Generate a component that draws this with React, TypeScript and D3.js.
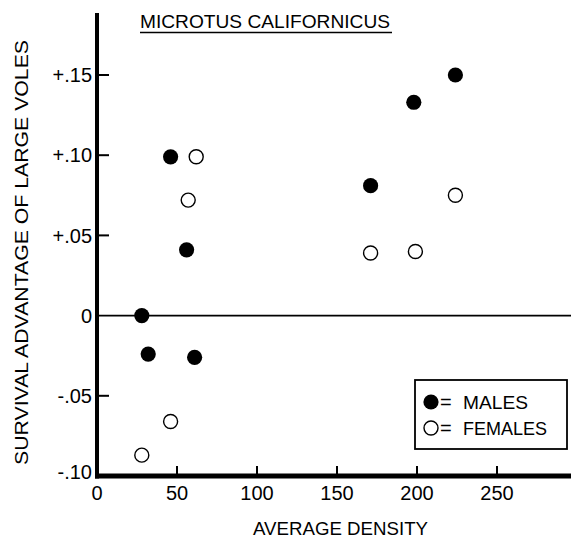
import React from "react";
import * as d3 from "d3";

const xTicks = [0, 50, 100, 150, 200, 250];
const yTicks = [0.15, 0.1, 0.05, 0, -0.05, -0.1];
const yTickLabels = ["+.15", "+.10", "+.05", "0", "-.05", "-.10"];

const malesX = [28, 32, 61, 46, 56, 171, 198, 224];
const malesY = [0, -0.024, -0.026, 0.099, 0.041, 0.081, 0.133, 0.15];
const femalesX = [28, 46, 57, 62, 171, 199, 224];
const femalesY = [-0.087, -0.066, 0.072, 0.099, 0.039, 0.04, 0.075];

const legendLabels = ["MALES", "FEMALES"];

const W = 571;
const H = 539;
const FONT = "'Liberation Sans', Arial, Helvetica, sans-serif";

export default function App() {
  const x = d3.scaleLinear().domain([0, 296.25]).range([97, 571]);
  const y = d3.scaleLinear().domain([-0.1, 0.15]).range([476, 75]);
  const males = malesX.map((v, i) => ({ x: v, y: malesY[i] }));
  const females = femalesX.map((v, i) => ({ x: v, y: femalesY[i] }));
  const x0 = x(0);
  const yb = y(-0.1);

  return (
    <svg
      width={W}
      height={H}
      style={{ position: "absolute", left: 0, top: 0, background: "#fff" }}
      fontFamily={FONT}
    >
      <rect x={0} y={0} width={W} height={H} fill="#fff" />
      {/* zero line */}
      <line x1={x0} x2={W} y1={y(0)} y2={y(0)} stroke="#000" strokeWidth={1.6} />
      {/* y axis */}
      <line x1={x0} x2={x0} y1={13} y2={yb + 2.5} stroke="#000" strokeWidth={4} />
      {/* x axis */}
      <line x1={x0 - 2} x2={W} y1={yb} y2={yb} stroke="#000" strokeWidth={5} />
      {yTicks.map((t, i) => (
        <g key={"yt" + i}>
          {t !== 0 && t !== -0.1 && (
            <line x1={x0} x2={x0 + 12} y1={y(t)} y2={y(t)} stroke="#000" strokeWidth={2} />
          )}
          <text
            x={92}
            y={y(t) - (t === -0.1 ? 4 : 0)}
            dy="0.36em"
            textAnchor="end"
            fontSize={20}
            fill="#000"
          >
            {yTickLabels[i]}
          </text>
        </g>
      ))}
      {xTicks.map((t, i) => (
        <g key={"xt" + i}>
          {t !== 0 && (
            <line x1={x(t)} x2={x(t)} y1={yb} y2={yb - 10} stroke="#000" strokeWidth={2} />
          )}
          <text x={x(t)} y={500} textAnchor="middle" fontSize={20} fill="#000">
            {t}
          </text>
        </g>
      ))}
      {/* axis titles */}
      <text
        x={253}
        y={535}
        fontSize={19}
        fill="#000"
        textLength={175}
        lengthAdjust="spacingAndGlyphs"
      >
        AVERAGE DENSITY
      </text>
      <text
        transform={`translate(28,${465}) rotate(-90)`}
        fontSize={19}
        fill="#000"
        textLength={425}
        lengthAdjust="spacingAndGlyphs"
      >
        SURVIVAL ADVANTAGE OF LARGE VOLES
      </text>
      {/* title */}
      <text
        x={140}
        y={28}
        fontSize={19}
        fill="#000"
        textLength={250}
        lengthAdjust="spacingAndGlyphs"
      >
        MICROTUS CALIFORNICUS
      </text>
      <line x1={140} x2={392} y1={32.5} y2={32.5} stroke="#000" strokeWidth={1.4} />
      {/* points */}
      {males.map((d, i) => (
        <circle key={"m" + i} cx={x(d.x)} cy={y(d.y)} r={7.6} fill="#000" />
      ))}
      {females.map((d, i) => (
        <circle
          key={"f" + i}
          cx={x(d.x)}
          cy={y(d.y)}
          r={7}
          fill="#fff"
          stroke="#000"
          strokeWidth={1.4}
        />
      ))}
      {/* legend */}
      <rect x={415} y={380} width={152} height={69} fill="#fff" stroke="#000" strokeWidth={1.8} />
      <circle cx={431} cy={402} r={7.6} fill="#000" />
      <text x={440} y={402} dy="0.36em" fontSize={20} fill="#000">=</text>
      <text
        x={463}
        y={402}
        dy="0.36em"
        fontSize={19}
        fill="#000"
        textLength={65}
        lengthAdjust="spacingAndGlyphs"
      >
        {legendLabels[0]}
      </text>
      <circle cx={431} cy={428} r={7} fill="#fff" stroke="#000" strokeWidth={1.4} />
      <text x={440} y={428} dy="0.36em" fontSize={20} fill="#000">=</text>
      <text
        x={463}
        y={428}
        dy="0.36em"
        fontSize={19}
        fill="#000"
        textLength={84}
        lengthAdjust="spacingAndGlyphs"
      >
        {legendLabels[1]}
      </text>
    </svg>
  );
}
